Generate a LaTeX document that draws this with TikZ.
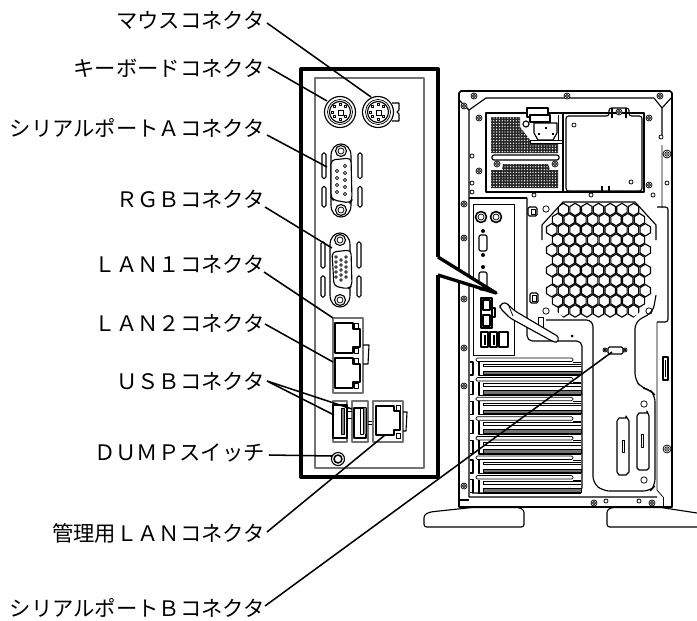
\documentclass[tikz,border=0pt]{standalone}
\usepackage{fontspec}
\newfontfamily\jpfont{Noto Sans CJK JP}
\newcommand{\scw}[3]{\draw[tl,fill=white] (#1,#2) circle (#3); \draw[tl] (#1,#2) circle (#3*.55); \fill (#1,#2) circle (#3*.22);}
\newcommand{\pstwo}[2]{
  \draw[ml,fill=white] (#1,#2) circle (15.5);
  \draw[tl] (#1,#2) circle (12.5);
  \draw[ml] (#1,#2) circle (10.5);
  \draw[tl] (#1-1.8,#2-1.8) rectangle (#1+3,#2+3);
  \foreach \a in {40,90,140,180,225,270,315}{\draw[line width=.5pt] ({#1+7.5*cos(\a)-1},{#2+7.5*sin(\a)-1}) rectangle ++(2,2);}
}
\newcommand{\dsub}[3]{% x, y top screw, y bottom screw
  \draw[ml,fill=white] (#1-10,#2+5) .. controls (#1-10,#2-11) and (#1+10,#2-11) .. (#1+10,#2+5) -- (#1+10,#3-5) .. controls (#1+10,#3+11) and (#1-10,#3+11) .. (#1-10,#3-5) -- cycle;
  \draw[ml] (#1,#2) circle (5.5); \draw[tl] (#1,#2) circle (3);
  \draw[ml] (#1,#3) circle (5.5); \draw[tl] (#1,#3) circle (3);
  \draw[ml,rounded corners=1.2pt] (#1-19,#2+2) rectangle (#1-15,{(#2+#3)/2-2});
  \draw[ml,rounded corners=1.2pt] (#1-19,{(#2+#3)/2+6}) rectangle (#1-15,#3-3);
  \draw[ml,rounded corners=1.2pt] (#1+17,#2+2) rectangle (#1+21,{(#2+#3)/2-2});
  \draw[ml,rounded corners=1.2pt] (#1+17,{(#2+#3)/2+6}) rectangle (#1+21,#3-3);
}
\newcommand{\rjack}[2]{% x,y top-left
  \draw[hl] (#1,#2) -- (#1+18,#2) -- (#1+18,#2+6) -- (#1+25,#2+6) -- (#1+25,#2+24) -- (#1+18,#2+24) -- (#1+18,#2+30) -- (#1,#2+30) -- cycle;
  \draw[tl,fill=white] (#1+19,#2) rectangle ++(4,5);
  \draw[tl,fill=white] (#1+19,#2+25) rectangle ++(4,5);
}
\tikzset{
  lab/.style={font=\jpfont\fontsize{16pt}{17pt}\selectfont,anchor=east,inner sep=0pt,text=black},
  lead/.style={line width=1.15pt,black},
  bx/.style={line width=2.5pt,black,miter limit=10},
  tl/.style={line width=.55pt,black},
  ml/.style={line width=.85pt,black},
  hl/.style={line width=1.2pt,black},
  pan/.style={line width=.8pt,black!55},
}
\begin{document}
\begin{tikzpicture}[x=.75pt,y=-.75pt,line join=round]
\useasboundingbox (0,0) rectangle (697,621);
\fill[white] (0,0) rectangle (697,621);

% ------------ tower ----------------
\draw[hl] (459,93) -- (461,91) -- (670,91) -- (672,93) -- (672,507) -- (459,507) -- cycle;
\draw[ml] (469,110) -- (486,98) -- (654,98) -- (662,108) -- (662,115) -- (662,135);
\draw[ml] (459,100) -- (469,110) -- (469,497) -- (657,497);
\draw[ml] (662,108) -- (672,97);
\draw[tl] (662,145) -- (662,208) (657,322) -- (657,490) -- (663,497);
\draw[tl] (663,497) -- (663,507);
\draw[ml] (459,500) -- (469,500);
% power bay
\draw[hl] (486,113) rectangle (644,192);
\draw[ml] (563,113) -- (563,192);
% vents of PSU
\begin{scope}
\clip (491,117) -- (520,117) -- (520,127) -- (530,140) -- (530,144) -- (558,144) -- (558,153) -- (491,153) -- cycle;
\fill[black!85] (486,113) rectangle (563,160);
\foreach \i in {0,...,27}{\foreach \j in {0,...,13}{\fill[white] ({491+\i*2.8},{118+\j*2.8}) circle (.7);}}
\end{scope}
\begin{scope}
\clip (503,164) -- (548,164) -- (550,170) -- (558,170) -- (558,188) -- (491,188) -- (491,170) -- (502,170) -- cycle;
\fill[black!85] (486,160) rectangle (563,192);
\foreach \i in {0,...,27}{\foreach \j in {0,...,10}{\fill[white] ({491+\i*2.8},{164+\j*2.8}) circle (.7);}}
\end{scope}
\draw[ml,rounded corners=1.5pt,fill=white] (492,155) rectangle (559,160);
\scw{497}{164}{3} \scw{555}{164}{3}
% AC inlet
\draw[ml,fill=white] (527,108) rectangle (548,117);
\draw[ml,fill=white] (530,115) -- (550,115) -- (550,122) -- (530,122) -- cycle;
\draw[ml] (534,122) -- (534,133) -- (538,140) -- (553,140) -- (557,133) -- (557,123) -- (534,123);
\draw[tl] (530,140) rectangle (563,143);
\draw[tl] (558,115) -- (558,140) -- (563,140);
\fill (545,127) rectangle ++(1.5,2); \fill (538,133) rectangle ++(1.5,2); \fill (552,133) rectangle ++(1.5,2);
\draw[ml] (526,124) circle (3);
% cover plate
\draw[ml,rounded corners=2pt] (566,116) -- (609,116) -- (609,108) -- (629,108) -- (629,116) -- (642,116) -- (642,191) -- (566,191) -- cycle;
\draw[ml] (612,118) -- (612,108) (626,118) -- (626,108);
\draw[ml,line width=1pt] (602,186) -- (602,191) (609,186) -- (609,191);
\scw{619}{112}{3}
% screws
\scw{464}{106}{3} \scw{474}{96}{3} \scw{567}{96}{3} \scw{660}{96}{3}
\scw{667}{154}{4} \scw{667}{449}{4}
\scw{479}{118}{3} \scw{479}{171}{3} \scw{649}{118}{3} \scw{649}{185}{3}
\scw{464}{204}{3} \scw{464}{238}{3} \scw{464}{299}{3} \scw{464}{348}{3} \scw{464}{386}{3} \scw{464}{486}{3}
\scw{594}{503}{3} \scw{652}{503}{3}
\foreach \p in {(472,156),(472,183),(472,192),(667,183),(534,195),(591,195),(653,195),(574,125),(631,182),(661,137),(606,501),(639,501)}{\path \p coordinate (c); \draw[tl,fill=white] (c) circle (2);}
\foreach \p in {(546,209),(546,311),(649,311)}{\path \p coordinate (c); \draw[tl,fill=white] (c) circle (3.2);}
\fill (572,336) circle (1.5);

% hex vent
\begin{scope}
\clip (563,202) -- (635,202) -- (656,225) -- (656,297) -- (632,319) -- (565,319) -- (542,297) -- (542,225) -- cycle;
\foreach \k/\xo/\lo/\hi in {0/0/-3/3,2/0/-4/4,4/0/-4/4,6/0/-4/4,8/0/-4/4,10/0/-3/3,1/.5/-4/3,3/.5/-4/3,5/.5/-4/3,7/.5/-4/3,9/.5/-4/3}{
 \foreach \j in {\lo,...,\hi}{
  \pgfmathsetmacro\hx{598.5+(\j+\xo)*11.7}
  \pgfmathsetmacro\hy{209.5+\k*10.15}
  \draw[ml] (\hx,\hy-6.2) -- (\hx+5.2,\hy-3) -- (\hx+5.2,\hy+3) -- (\hx,\hy+6.2) -- (\hx-5.2,\hy+3) -- (\hx-5.2,\hy-3) -- cycle;
 }}
\end{scope}
\draw[ml] (542,240) -- (542,225) -- (563,202) -- (635,202) -- (656,225) -- (656,240);
% large panel lines
\draw[ml] (469,198) -- (527,198);
\draw[ml,rounded corners=4pt] (527,198) -- (527,341) -- (582,341) -- (582,493) -- (472,493);
\draw[tl] (473,204) -- (514,204) -- (514,355) -- (473,355) -- cycle;
\draw[ml,rounded corners=5pt] (546,320) -- (593,320) -- (593,483) -- (603,491) -- (650,491) -- (655,486) -- (655,395) -- (650,390) -- (642,388) -- (635,380) -- (635,322) -- (653,312) -- (656,295);
\draw[ml,rounded corners=2pt] (657,207) -- (668,207) -- (668,322) -- (657,322);
% small clips
\draw[ml,rounded corners=1pt] (528,207) rectangle (537,216); \draw[tl] (531,209) rectangle (535,214);
\draw[ml,rounded corners=1pt] (530,293) rectangle (538,303); \draw[tl] (532,295) rectangle (536,301);
% mini IO
\draw[hl] (481,217) circle (5.5); \draw[tl] (481,217) circle (3);
\draw[hl] (496,217) circle (5.5); \draw[tl] (496,217) circle (3);
\fill (483,231) circle (2); \fill (483,255) circle (2); \fill (483,267) circle (2);
\draw[ml,rounded corners=1.5pt] (479,235) rectangle (487,251);
\draw[ml,rounded corners=1.5pt] (479,272) rectangle (487,290);
\draw[ml] (481,298) rectangle (492,328); \draw[ml] (483,300) -- (490,300) -- (490,310) -- (483,310) -- cycle;  \draw[ml] (483,315) -- (490,315) -- (490,326) -- (483,326) -- cycle;
\draw[ml] (492,308) rectangle (495,317);
\draw[ml] (481,332) rectangle (488,347); \draw[ml] (490,332) rectangle (497,347); \draw[ml] (499,332) rectangle (508,347);
\fill (484,335) rectangle (485.5,345); \fill (493,335) rectangle (494.5,345);
% handle
\draw[tl,fill=white] (538,317) rectangle (543,332);
\draw[ml,fill=white,rounded corners=2pt] (500,305) -- (505,302) -- (515,311) -- (559,337) -- (557,343) -- (550,340) -- (510,318) -- (500,308) -- cycle;
\draw[tl] (508,304) -- (513,316);
% expansion slots
\foreach \i in {0,...,6}{
  \pgfmathsetmacro\sy{358+\i*19.6}
  \fill[black!55] (483,\sy+13) rectangle (581,\sy+16.5);
  \draw[tl] (483,\sy+13) rectangle (581,\sy+16.5);
  \draw[tl] (483,\sy+6) -- (581,\sy+6) (483,\sy+8.5) -- (581,\sy+8.5) (483,\sy+6) -- (483,\sy+8.5);
  \draw[ml] (479,\sy+4) -- (479,\sy+17.6) -- (581,\sy+17.6);
  \draw[ml] (573,\sy+4.5) -- (581,\sy+4.5);
  \draw[tl,fill=white,rounded corners=1pt] (476,\sy) rectangle (573,\sy+3.5);
  \draw[ml] (470,\sy+4) -- (473,\sy+4) -- (473,\sy+17) -- (470,\sy+17);
}
% ext connectors
\draw[ml,fill=white] (663,357) rectangle (668,380); \draw[line width=1.4pt] (665.5,360) -- (665.5,377);
\draw[ml,fill=white] (619,418) -- (626,418) -- (626,416) -- (629,421) -- (629,472) -- (626,475) -- (619,475) -- (617,472) -- (617,421) -- cycle;
\draw[tl] (622,440) rectangle (624,452);
\draw[ml,fill=white] (639,413) -- (647,413) -- (647,411) -- (649,416) -- (649,468) -- (647,470) -- (639,470) -- (637,468) -- (637,416) -- cycle;
\draw[tl] (641,434) rectangle (643,447);
\draw[tl,fill=white] (644,404) circle (3.2); \draw[tl,fill=white] (644,480) circle (3.2);
% serial B
\draw[ml,rounded corners=1pt] (608,347) rectangle (623,354);
\scw{605}{350}{2} \scw{625}{350}{2}
% feet
\draw[ml,rounded corners=2pt] (424,527) -- (424,515) -- (430,512) -- (472,507.5) -- (519,507.5) -- (524,510) -- (524,527) -- cycle;
\draw[ml,rounded corners=2pt] (697,527) -- (607,527) -- (607,510) -- (612,507.5) -- (661,507.5) -- (697,513);

% ------------ enlarged box ----------------
\fill[white] (438,257) -- (496,293) -- (438,275) -- cycle;
\draw[pan] (315,78) rectangle (424,468);
\pstwo{340}{112} \pstwo{378}{112}
\draw[ml] (392,103) -- (399,103) -- (399,110) -- (397,112) -- (399,114) -- (399,121) -- (392,121);
\dsub{341}{151}{210}
\draw[ml,rounded corners=3pt,fill=white] (331,160) -- (351,158) -- (352,200) -- (350,203) -- (333,200) -- (331,197) -- cycle;
\foreach \yy in {168,175,182,189,196}{\draw[tl] (345,\yy-2) circle (1.7);}
\foreach \yy in {171,178,185,192}{\draw[tl] (337,\yy) circle (1.7);}
\dsub{340}{240}{300}
\draw[ml,rounded corners=3pt,fill=white] (332,252) -- (351,250) -- (352,286) -- (348,289) -- (334,286) -- cycle;
\foreach \yy in {257,262,267,272,277}{\draw[tl] (336,\yy) circle (1.3); \draw[tl] (346,\yy) circle (1.3); \draw[tl] (341,\yy+3) circle (1.3);}
% LAN 1/2
\draw[pan] (333,318) rectangle (363,393);
\rjack{335}{323} \rjack{335}{358}
\draw[ml] (363,345) -- (369,345) -- (368,364) -- (363,364);
% USB
\draw[pan] (333,401) rectangle (347,442); \draw[pan] (352,401) rectangle (368,442);
\draw[hl] (333,405) -- (347,405) -- (347,438) -- (333,438) -- cycle;
\draw[hl] (354,408) -- (366,408) -- (366,438) -- (354,438) -- cycle;
\fill[black!50] (341.5,408) rectangle (343.5,434); \fill[black!50] (363.5,408) rectangle (365.5,434);
\draw[tl] (341,408) rectangle (344,434); \draw[tl] (360,408) rectangle (363,434);
\draw[tl] (347,411) -- (352,411) (347,418) -- (352,418) (368,421) -- (373,421) (368,424) -- (373,424);
\draw[pan] (373,401) rectangle (403,442);
\draw[hl] (376,406) -- (394,406) -- (394,411) -- (400,411) -- (400,430) -- (394,430) -- (394,435) -- (376,435) -- cycle;
\draw[tl,fill=white] (396,405) rectangle ++(4,5);
\draw[tl,fill=white] (396,433) rectangle ++(4,5);
\draw[ml] (403,412) -- (407,412) -- (406,431) -- (403,431);
% DUMP
\draw[ml,fill=white] (338,459) circle (6.5);
\draw[hl] (338,459) circle (4);
% outline
\draw[bx] (438,257) -- (438,69) -- (301,69) -- (301,477) -- (438,477) -- (438,275);
\draw[bx] (438,257) -- (496,293) -- (438,275);

% ------------ labels ----------------
\node[lab] (lm) at (265,20) {マウスコネクタ};
\node[lab] (lk) at (265,68) {キーボードコネクタ};
\node[lab] (ls) at (265,128) {シリアルポートＡコネクタ};
\node[lab] (lr) at (265,199) {ＲＧＢコネクタ};
\node[lab] (l1) at (265,264) {ＬＡＮ１コネクタ};
\node[lab] (l2) at (265,323) {ＬＡＮ２コネクタ};
\node[lab] (lu) at (265,381) {ＵＳＢコネクタ};
\node[lab] (ld) at (265,453) {ＤＵＭＰスイッチ};
\node[lab] (lg) at (265,533) {管理用ＬＡＮコネクタ};
\node[lab] (lb) at (265,608) {シリアルポートＢコネクタ};
\coordinate (sm) at (267,23); \coordinate (tm) at (371,97);
\coordinate (sk) at (268,67); \coordinate (tk) at (327,101);
\coordinate (ss) at (267,135); \coordinate (ts) at (327,167);
\coordinate (sr) at (265,207); \coordinate (tr) at (332,248);
\coordinate (s1) at (264,272); \coordinate (t1) at (333,318);
\coordinate (s2) at (265,324); \coordinate (t2) at (333,362);
\coordinate (su) at (267,381); \coordinate (tu) at (334,415); \coordinate (tv) at (352,409);
\coordinate (sd) at (269,455); \coordinate (td) at (332,456);
\coordinate (sg) at (267,532); \coordinate (tg) at (385,435);
\coordinate (sb) at (265,606); \coordinate (tb) at (612,352);
\draw[lead] (sm) -- (tm);
\draw[lead] (sk) -- (tk);
\draw[lead] (ss) -- (ts);
\draw[lead] (sr) -- (tr);
\draw[lead] (s1) -- (t1);
\draw[lead] (s2) -- (t2);
\draw[lead] (su) -- (tu);
\draw[lead] (su) -- (tv);
\draw[lead] (sd) -- (td);
\draw[lead] (sg) -- (tg);
\draw[lead] (sb) -- (tb);
\end{tikzpicture}
\end{document}
